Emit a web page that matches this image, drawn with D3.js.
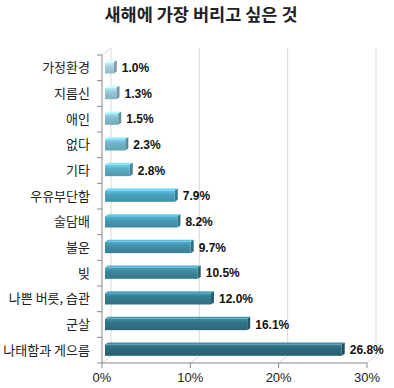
<!DOCTYPE html>
<html><head><meta charset="utf-8">
<script src="https://cdn.jsdelivr.net/npm/d3@7"></script>
<style>body{margin:0;background:#fff}svg{display:block}</style>
</head><body>
<script>
const title = "새해에 가장 버리고 싶은 것";
const categories = ["가정환경","지름신","애인","없다","기타","우유부단함","술담배","불운","빚","나쁜 버릇, 습관","군살","나태함과 게으름"];
const values = [1.0,1.3,1.5,2.3,2.8,7.9,8.2,9.7,10.5,12.0,16.1,26.8];
const tickValues = [0,10,20,30];

const W=394,H=388;
const svg=d3.select("body").append("svg").attr("width",W).attr("height",H);
const x=d3.scaleLinear().domain([0,30]).range([102,367]);
const y=d3.scaleBand().domain(categories).range([55,363]).paddingInner(0.56).paddingOuter(0.28);
const dx=9, dy=7;
const color=d3.scaleLinear().domain([0,5,11]).range(["#a9d1df","#4aa3bf","#2e6a7d"]);

svg.append("text").attr("x",201).attr("y",21).attr("text-anchor","middle")
  .style("font-family","'Noto Sans CJK KR'").style("font-size","17.5px").style("font-weight","bold").attr("fill","#222").text(title);

const g=svg.append("g");
const grid="#d9d9d9";
g.append("line").attr("x1",x(0)+dx).attr("x2",x(0)+dx).attr("y1",55-dy).attr("y2",363-dy).attr("stroke",grid);
g.append("line").attr("x1",x(0)).attr("x2",x(0)+dx).attr("y1",55).attr("y2",55-dy).attr("stroke",grid);
tickValues.forEach(v=>{
  if(v>0) g.append("line").attr("x1",x(v)+dx).attr("x2",x(v)+dx).attr("y1",55-dy).attr("y2",363-dy).attr("stroke",grid);
  g.append("line").attr("x1",x(v)).attr("x2",x(v)+dx).attr("y1",363).attr("y2",363-dy).attr("stroke",grid);
});

const defs=svg.append("defs");
categories.forEach((c,i)=>{
  const col=d3.color(color(i));
  const gr=defs.append("linearGradient").attr("id","gb"+i).attr("x1",0).attr("x2",0).attr("y1",0).attr("y2",1);
  gr.append("stop").attr("offset","0%").attr("stop-color",col.brighter(0.5));
  gr.append("stop").attr("offset","35%").attr("stop-color",col);
  gr.append("stop").attr("offset","100%").attr("stop-color",col.darker(0.35));
});
const bh=y.bandwidth(), off=3, d2=3, u2=2;
const bars=g.selectAll("g.bar").data(values).join("g");
bars.each(function(v,i){
  const s=d3.select(this);
  const y0=y(categories[i]);
  const x0=x(0)+off, x1=x(v)+off;
  const col=d3.color(color(i));
  s.append("path").attr("d",`M${x0},${y0}L${x0+d2},${y0-u2}L${x1+d2},${y0-u2}L${x1},${y0}Z`).attr("fill",col.brighter(0.8));
  s.append("path").attr("d",`M${x1},${y0}L${x1+d2},${y0-u2}L${x1+d2},${y0+bh-u2}L${x1},${y0+bh}Z`).attr("fill",col.darker(0.8));
  s.append("rect").attr("x",x0).attr("y",y0).attr("width",x1-x0).attr("height",bh).attr("fill",`url(#gb${i})`);
  s.append("text").attr("x",x1+d2+5).attr("y",y0+bh/2+1).attr("dominant-baseline","middle")
    .style("font-family","'Liberation Sans',Arial").style("font-size","12px").style("font-weight","bold").attr("fill","#111")
    .text(v.toFixed(1)+"%");
});

const ax="#888";
g.append("line").attr("x1",102).attr("x2",102).attr("y1",55).attr("y2",363).attr("stroke",ax);
g.append("line").attr("x1",102).attr("x2",367).attr("y1",363).attr("y2",363).attr("stroke",ax);
const step=y.step();
d3.range(categories.length+1).forEach(k=>{
  const yy=55+k*step;
  g.append("line").attr("x1",97).attr("x2",102).attr("y1",yy).attr("y2",yy).attr("stroke",ax);
});
tickValues.forEach(v=>{
  g.append("line").attr("x1",x(v)).attr("x2",x(v)).attr("y1",363).attr("y2",368).attr("stroke",ax);
  g.append("text").attr("x",x(v)).attr("y",382).attr("text-anchor","middle")
    .style("font-family","'Liberation Sans',Arial").style("font-size","13px").attr("fill","#222").text(v+"%");
});
categories.forEach((c,i)=>{
  g.append("text").attr("x",90).attr("y",y(c)+bh/2+1).attr("text-anchor","end").attr("dominant-baseline","middle")
   .style("font-family","'Noto Sans CJK KR'").style("font-size","13px").attr("fill","#222").text(c);
});
</script>
</body></html>
